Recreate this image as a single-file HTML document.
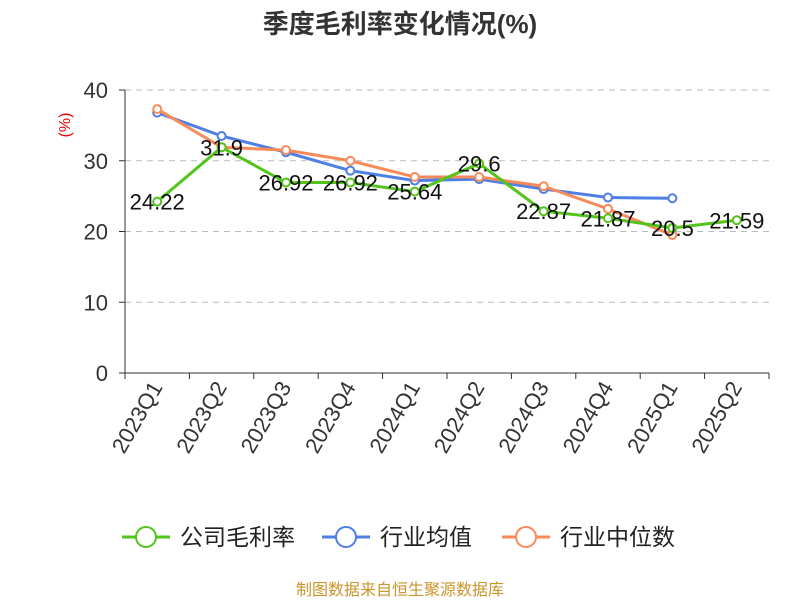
<!DOCTYPE html>
<html><head><meta charset="utf-8"><style>
body{margin:0;background:#fff;font-family:"Liberation Sans","Noto Sans CJK SC",sans-serif}
</style></head><body>
<svg id="c" width="800" height="600" xmlns="http://www.w3.org/2000/svg" font-family="Liberation Sans, Noto Sans CJK SC, sans-serif">
<text x="400" y="33" text-anchor="middle" font-size="26" font-weight="bold" fill="#333">季度毛利率变化情况(%)</text>
<text x="70" y="125" text-anchor="middle" font-size="16" fill="#e00" transform="rotate(-90 70 125)">(%)</text>
<g id="grid"></g><g id="axes"></g><g id="series"></g>
<g>
<g><line x1="122" y1="537" x2="170" y2="537" stroke="#52c41a" stroke-width="3"/><circle cx="146" cy="537" r="10" fill="#fff" stroke="#52c41a" stroke-width="2"/><text x="180" y="545" font-size="23" fill="#222">公司毛利率</text></g>
<g><line x1="322" y1="537" x2="370" y2="537" stroke="#4e7fe6" stroke-width="3"/><circle cx="346" cy="537" r="10" fill="#fff" stroke="#4e7fe6" stroke-width="2"/><text x="380" y="545" font-size="23" fill="#222">行业均值</text></g>
<g><line x1="502" y1="537" x2="550" y2="537" stroke="#f98a5a" stroke-width="3"/><circle cx="526" cy="537" r="10" fill="#fff" stroke="#f98a5a" stroke-width="2"/><text x="560" y="545" font-size="23" fill="#222">行业中位数</text></g>
</g>
<text x="400" y="595" text-anchor="middle" font-size="16" fill="#c9952c">制图数据来自恒生聚源数据库</text>
</svg>
<script>
const categories=["2023Q1","2023Q2","2023Q3","2023Q4","2024Q1","2024Q2","2024Q3","2024Q4","2025Q1","2025Q2"];
const companyValues=[24.22,31.9,26.92,26.92,25.64,29.6,22.87,21.87,20.5,21.59];
const avgValues=[36.8,33.5,31.2,28.6,27.2,27.4,26.0,24.8,24.7];
const medianValues=[37.3,31.9,31.5,30.0,27.7,27.7,26.4,23.2,19.5];
const yTicks=[0,10,20,30,40];
const NS="http://www.w3.org/2000/svg";
const x0=125,x1=769,y0=373,y1=90,yMax=40;
const bw=(x1-x0)/categories.length;
const xs=i=>x0+bw*(i+0.5);
const ys=v=>y0-(v/yMax)*(y0-y1);
function mk(tag,attrs,parent,txt){const e=document.createElementNS(NS,tag);for(const k in attrs)e.setAttribute(k,attrs[k]);if(txt!=null)e.textContent=txt;document.getElementById(parent).appendChild(e);return e;}
yTicks.forEach(t=>{
 if(t>0){const g=mk("line",{x1:x0,x2:x1,y1:ys(t),y2:ys(t),stroke:"#bbb","stroke-dasharray":"6,5"},"grid");
 
 }
 const tl=mk("text",{x:x0-17,y:ys(t)+8,"text-anchor":"end","font-size":"22",fill:"#333"},"axes",t);
 
 
 const tk=mk("line",{x1:x0-6,x2:x0,y1:ys(t),y2:ys(t),stroke:"#333"},"axes");
 
 
});
const ya=mk("line",{x1:x0,x2:x0,y1:y1,y2:y0,stroke:"#333"},"axes");


const xa=mk("line",{x1:x0,x2:x1,y1:y0,y2:y0,stroke:"#333"},"axes");


for(let i=0;i<=categories.length;i++){const t=mk("line",{x1:x0+bw*i,x2:x0+bw*i,y1:y0,y2:y0+6,stroke:"#333"},"axes");
 
 }
categories.forEach((c,i)=>{const x=xs(i)+6,y=y0+14;
 const l=mk("text",{x:x,y:y,"text-anchor":"end","font-size":"22",fill:"#333",transform:`rotate(-60 ${x} ${y})`},"axes",c);
 
 });
function series(vals,color,name){
 const pts=vals.map((v,i)=>xs(i)+","+ys(v)).join(" ");
 const p=mk("polyline",{points:pts,fill:"none",stroke:color,"stroke-width":3},"series");
 
 
 vals.forEach((v,i)=>{const c=mk("circle",{cx:xs(i),cy:ys(v),r:4,fill:"#fff",stroke:color,"stroke-width":2},"series");
  
  });
}
series(avgValues,"#4e7fe6","industry-avg");
series(medianValues,"#f98a5a","industry-median");
series(companyValues,"#52c41a","company");
companyValues.forEach((v,i)=>{const t=mk("text",{x:xs(i),y:ys(v)+8,"text-anchor":"middle","font-size":"22",fill:"#111"},"series",String(v));
 
 });
</script>
</body></html>
